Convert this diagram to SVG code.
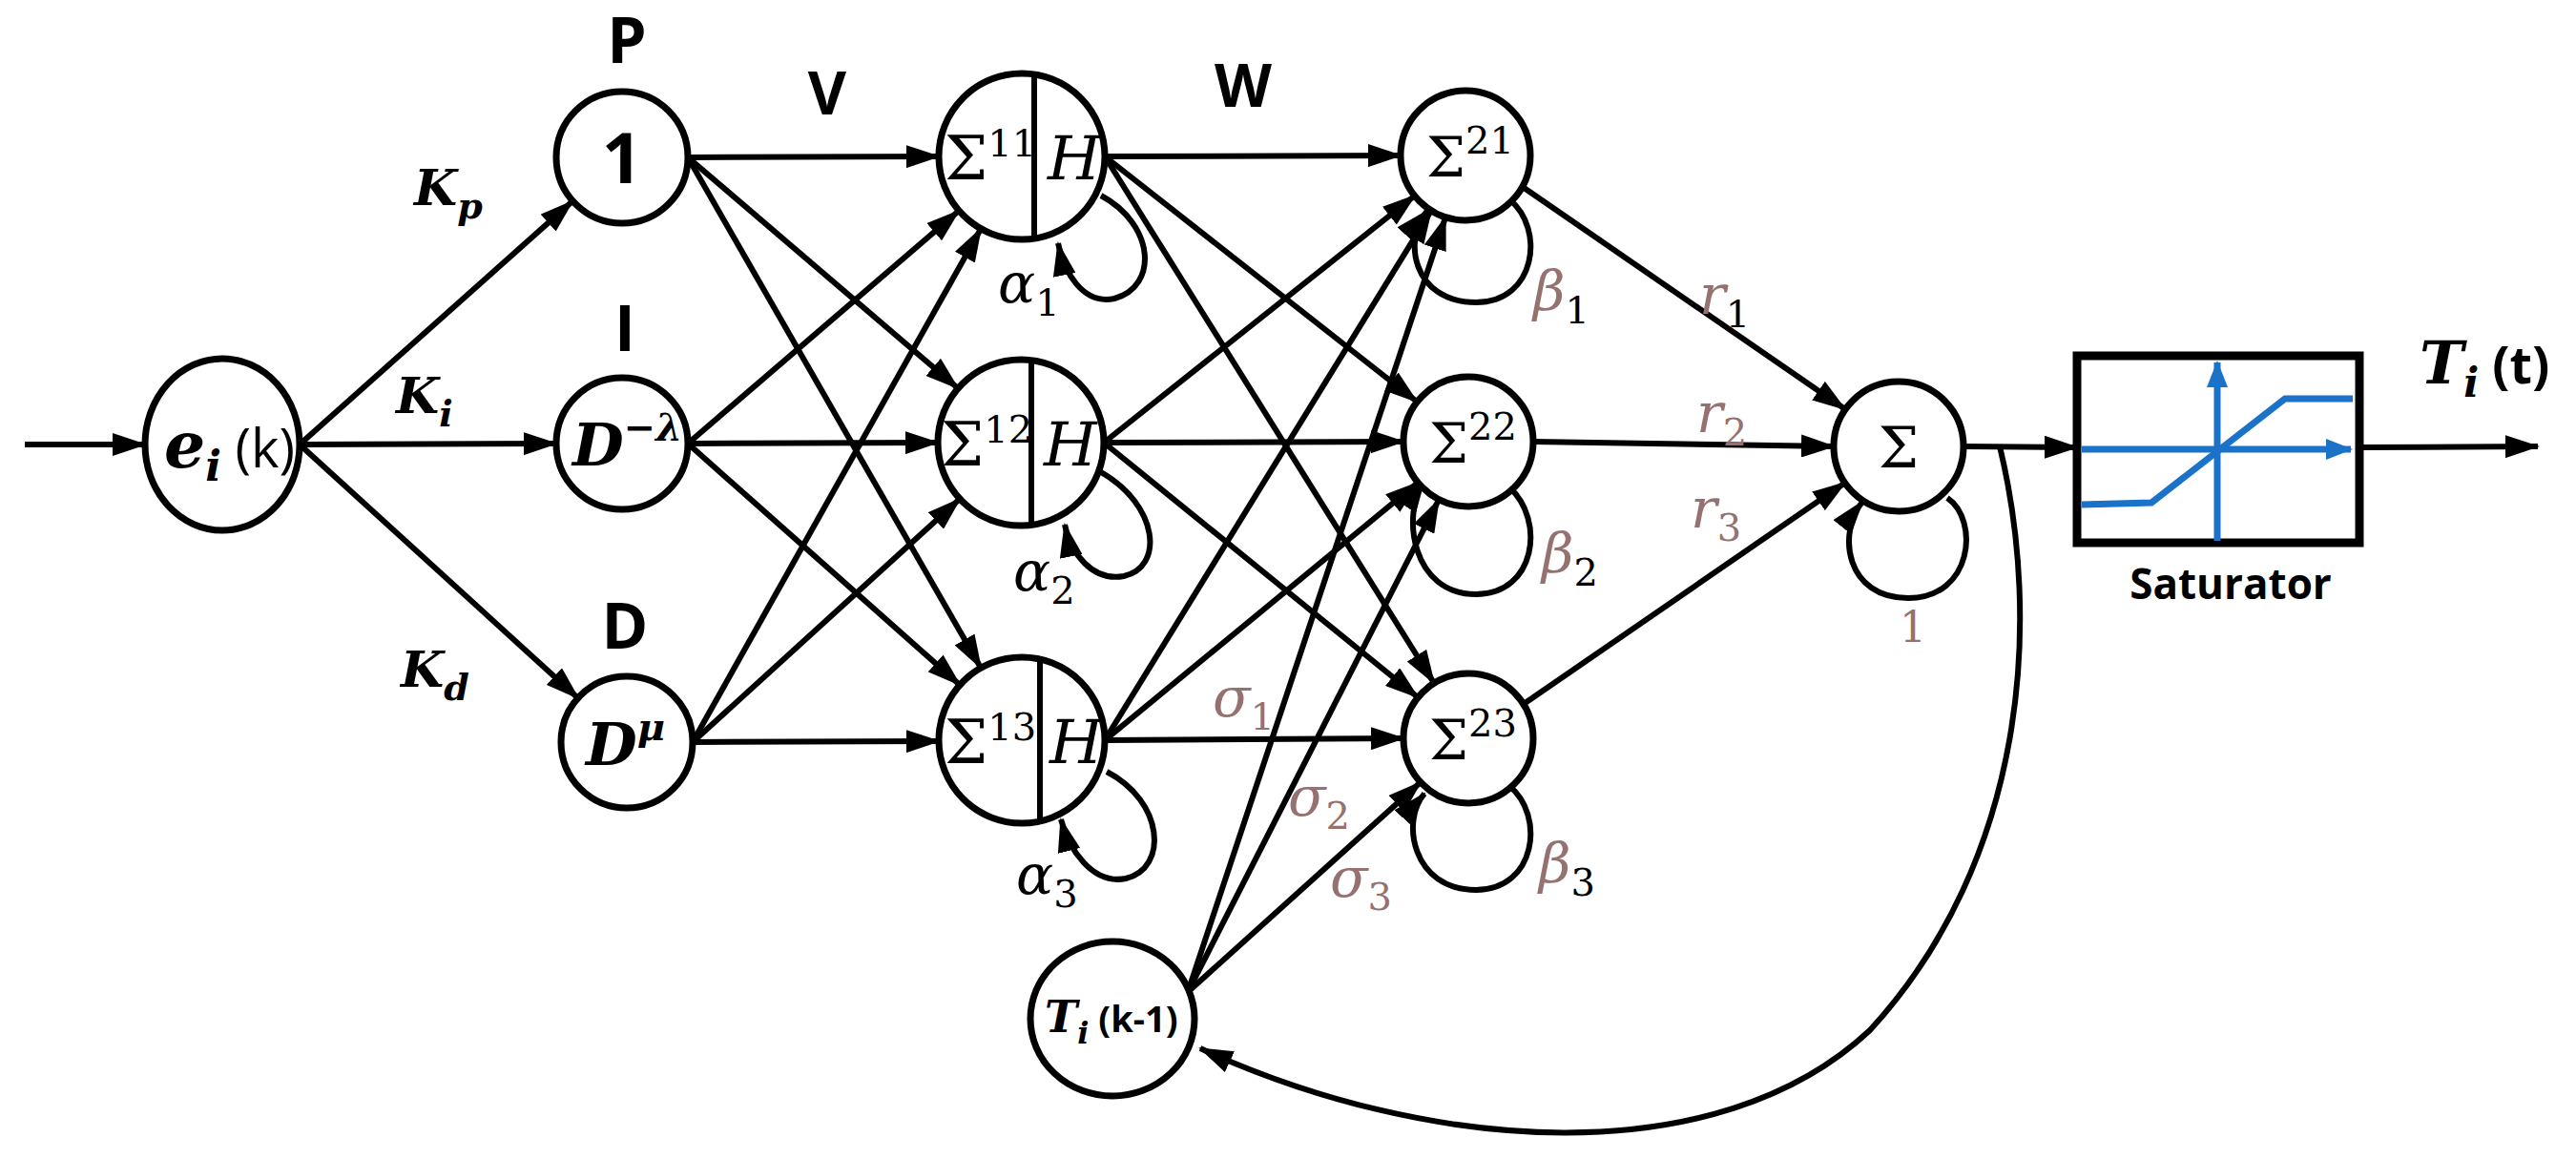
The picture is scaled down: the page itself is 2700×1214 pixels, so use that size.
<svg xmlns="http://www.w3.org/2000/svg" width="2700" height="1214" viewBox="0 0 2700 1214">
<defs>
<marker id="ah" markerUnits="userSpaceOnUse" markerWidth="36" markerHeight="24" viewBox="0 0 36 24" refX="34" refY="12" orient="auto"><path d="M0,0 L36,12 L0,24 z" fill="#000"/></marker>
<marker id="bh" markerUnits="userSpaceOnUse" markerWidth="28" markerHeight="22" viewBox="0 0 28 22" refX="26" refY="11" orient="auto"><path d="M0,0 L28,11 L0,22 z" fill="#1a73c8"/></marker>
<style>
.n{fill:#fff;stroke:#000;stroke-width:7}
.e{stroke:#000;stroke-width:6;fill:none;marker-end:url(#ah)}
.l{stroke:#000;stroke-width:6;fill:none}
.hd{font-family:"Open Sans","Liberation Sans",sans-serif;font-weight:bold;text-anchor:middle}
.mi{font-family:"DejaVu Serif","Liberation Serif",serif;font-style:italic;font-weight:bold}
.gr{font-family:"DejaVu Serif","Liberation Serif",serif;font-style:italic}
.sg{font-family:"DejaVu Serif","Liberation Serif",serif}
.br{fill:#957170}
.bl{stroke:#1a73c8;stroke-width:7;fill:none}
</style>
</defs>
<g id="connectors">
<line class="e" x1="26" y1="466" x2="152" y2="466"/>
<line class="e" x1="314" y1="466" x2="600" y2="211"/>
<line class="e" x1="314" y1="466" x2="583" y2="465"/>
<line class="e" x1="314" y1="466" x2="606" y2="732"/>
<line class="e" x1="721" y1="165" x2="984" y2="164"/>
<line class="e" x1="721" y1="165" x2="1004" y2="407"/>
<line class="e" x1="721" y1="165" x2="1028" y2="700"/>
<line class="e" x1="721" y1="465" x2="1005" y2="221"/>
<line class="e" x1="721" y1="465" x2="983" y2="464"/>
<line class="e" x1="721" y1="465" x2="1006" y2="718"/>
<line class="e" x1="726" y1="778" x2="1028" y2="240"/>
<line class="e" x1="726" y1="778" x2="1006" y2="523"/>
<line class="e" x1="726" y1="778" x2="984" y2="777"/>
<line class="e" x1="1158" y1="164" x2="1468" y2="163"/>
<line class="e" x1="1158" y1="164" x2="1485" y2="421"/>
<line class="e" x1="1158" y1="164" x2="1503" y2="716"/>
<line class="e" x1="1157" y1="464" x2="1483" y2="205"/>
<line class="e" x1="1157" y1="464" x2="1471" y2="463"/>
<line class="e" x1="1157" y1="464" x2="1486" y2="731"/>
<line class="e" x1="1158" y1="776" x2="1500" y2="221"/>
<line class="e" x1="1158" y1="776" x2="1486" y2="506"/>
<line class="e" x1="1158" y1="776" x2="1471" y2="774"/>
<line class="e" x1="1245" y1="1040" x2="1515" y2="228"/>
<line class="e" x1="1245" y1="1040" x2="1508" y2="524"/>
<line class="e" x1="1245" y1="1040" x2="1489" y2="820"/>
<line class="e" x1="1596" y1="196" x2="1934" y2="429"/>
<line class="e" x1="1607" y1="463" x2="1922" y2="468"/>
<line class="e" x1="1597" y1="738" x2="1934" y2="506"/>
<line class="e" x1="2058" y1="468" x2="2177" y2="469"/>
<line class="e" x1="2473" y1="469" x2="2660" y2="468"/>
<path class="e" d="M2096,468 C2140,650 2125,900 1960,1080 C1800,1230 1500,1210 1258,1099"/>
<path class="e" d="M1154,205 C1210,235 1215,300 1168,313 C1135,320 1115,285 1109,255"/>
<path class="e" d="M1154,495 C1215,530 1220,595 1178,604 C1145,610 1122,580 1116,550"/>
<path class="e" d="M1160,809 C1220,840 1225,910 1180,921 C1145,928 1120,890 1112,859"/>
<path class="e" d="M1582,209 C1620,240 1610,317 1547,317 C1480,317 1470,250 1496,221"/>
<path class="e" d="M1582,511 C1620,545 1610,623 1547,623 C1480,623 1468,540 1493,503"/>
<path class="e" d="M1582,824 C1620,855 1610,933 1547,933 C1480,933 1468,860 1493,832"/>
<path class="e" d="M2041,522 C2075,545 2068,627 2000,627 C1935,627 1925,560 1952,526"/>
</g>
<g id="node-e"><ellipse class="n" cx="233" cy="466" rx="81" ry="90"/>
<text x="172" y="490" font-size="68"><tspan class="mi">e</tspan><tspan class="mi" font-size="44" dy="14">i</tspan><tspan font-family="Open Sans,sans-serif" font-size="56" dy="-14"> (k)</tspan></text></g>
<g id="node-P"><ellipse class="n" cx="652" cy="165" rx="69" ry="69"/><text class="hd" x="652" y="192" font-size="74">1</text><text class="hd" x="657" y="66" font-size="66">P</text></g>
<g id="node-I"><ellipse class="n" cx="652" cy="465" rx="69" ry="69"/><text x="600" y="488" font-size="62"><tspan class="mi">D</tspan><tspan class="mi" font-size="40" dy="-26">−λ</tspan></text><text class="hd" x="655" y="368" font-size="66">I</text></g>
<g id="node-D"><ellipse class="n" cx="657" cy="778" rx="69" ry="69"/><text x="614" y="802" font-size="62"><tspan class="mi">D</tspan><tspan class="mi" font-size="40" dy="-26">μ</tspan></text><text class="hd" x="655" y="680" font-size="66">D</text></g>
<g id="node-S11"><ellipse class="n" cx="1071" cy="164" rx="87" ry="87"/><line class="l" x1="1084" y1="78" x2="1084" y2="250"/><text x="990" y="188" class="sg" font-size="64">Σ<tspan font-size="40" dy="-24">11</tspan></text><text class="gr" x="1098" y="188" font-size="64">H</text></g>
<g id="node-S12"><ellipse class="n" cx="1070" cy="464" rx="87" ry="87"/><line class="l" x1="1081" y1="378" x2="1081" y2="550"/><text x="986" y="488" class="sg" font-size="64">Σ<tspan font-size="40" dy="-24">12</tspan></text><text class="gr" x="1094" y="488" font-size="64">H</text></g>
<g id="node-S13"><ellipse class="n" cx="1071" cy="776" rx="87" ry="87"/><line class="l" x1="1090" y1="690" x2="1090" y2="862"/><text x="990" y="800" class="sg" font-size="64">Σ<tspan font-size="40" dy="-24">13</tspan></text><text class="gr" x="1100" y="800" font-size="64">H</text></g>
<g id="node-S21"><ellipse class="n" cx="1536" cy="163" rx="68" ry="68"/><text x="1495" y="185" class="sg" font-size="58">Σ<tspan font-size="40" dy="-24">21</tspan></text></g>
<g id="node-S22"><ellipse class="n" cx="1539" cy="463" rx="68" ry="68"/><text x="1498" y="485" class="sg" font-size="58">Σ<tspan font-size="40" dy="-24">22</tspan></text></g>
<g id="node-S23"><ellipse class="n" cx="1539" cy="774" rx="68" ry="68"/><text x="1498" y="796" class="sg" font-size="58">Σ<tspan font-size="40" dy="-24">23</tspan></text></g>
<g id="node-T"><ellipse class="n" cx="1166" cy="1068" rx="86" ry="81"/><text x="1095" y="1082" font-size="46"><tspan class="mi">T</tspan><tspan class="mi" font-size="32" dy="12">i</tspan><tspan font-family="Open Sans,sans-serif" font-weight="bold" font-size="38" dy="-12"> (k-1)</tspan></text></g>
<g id="node-S"><ellipse class="n" cx="1990" cy="468" rx="68" ry="68"/><text x="1990" y="490" class="sg" font-size="60" text-anchor="middle">Σ</text></g>
<g id="node-sat"><rect x="2177" y="373" width="296" height="196" fill="#fff" stroke="#000" stroke-width="9"/>
<line class="bl" x1="2182" y1="471" x2="2464" y2="471" marker-end="url(#bh)"/>
<line class="bl" x1="2324" y1="567" x2="2324" y2="380" marker-end="url(#bh)"/>
<polyline class="bl" points="2182,529 2255,527 2395,418 2466,418"/>
<text class="hd" x="2338" y="628" font-size="44">Saturator</text></g>
<g id="labels">
<text x="2536" y="402" font-size="62"><tspan class="mi">T</tspan><tspan class="mi" font-size="42" dy="14">i</tspan><tspan font-family="Open Sans,sans-serif" font-weight="bold" font-size="54" dy="-14"> (t)</tspan></text>
<text class="hd" x="867" y="120" font-size="62">V</text>
<text class="hd" x="1303" y="112" font-size="62">W</text>
<text x="434" y="215" font-size="52"><tspan class="mi">K</tspan><tspan class="mi" font-size="38" dy="14">p</tspan></text>
<text x="415" y="433" font-size="52"><tspan class="mi">K</tspan><tspan class="mi" font-size="38" dy="14">i</tspan></text>
<text x="420" y="720" font-size="52"><tspan class="mi">K</tspan><tspan class="mi" font-size="38" dy="14">d</tspan></text>
<text class="gr" x="1046" y="317" font-size="58">α<tspan font-style="normal" font-size="40" dy="14">1</tspan></text>
<text class="gr" x="1062" y="619" font-size="58">α<tspan font-style="normal" font-size="40" dy="14">2</tspan></text>
<text class="gr" x="1065" y="937" font-size="58">α<tspan font-style="normal" font-size="40" dy="14">3</tspan></text>
<text class="gr br" x="1607" y="325" font-size="58">β<tspan fill="#000" font-style="normal" font-size="40" dy="14">1</tspan></text>
<text class="gr br" x="1616" y="600" font-size="58">β<tspan fill="#000" font-style="normal" font-size="40" dy="14">2</tspan></text>
<text class="gr br" x="1613" y="925" font-size="58">β<tspan fill="#000" font-style="normal" font-size="40" dy="14">3</tspan></text>
<text class="gr br" x="1271" y="751" font-size="58">σ<tspan font-style="normal" font-size="40" dy="14">1</tspan></text>
<text class="gr br" x="1350" y="855" font-size="58">σ<tspan font-style="normal" font-size="40" dy="14">2</tspan></text>
<text class="gr br" x="1394" y="940" font-size="58">σ<tspan font-style="normal" font-size="40" dy="14">3</tspan></text>
<text class="gr br" x="1781" y="329" font-size="58">r<tspan fill="#000" font-style="normal" font-size="40" dy="14">1</tspan></text>
<text class="gr br" x="1778" y="453" font-size="58">r<tspan font-style="normal" font-size="40" dy="14">2</tspan></text>
<text class="gr br" x="1772" y="553" font-size="58">r<tspan font-style="normal" font-size="40" dy="14">3</tspan></text>
<text class="sg br" x="2005" y="673" font-size="44" text-anchor="middle">1</text>
</g>
</svg>
